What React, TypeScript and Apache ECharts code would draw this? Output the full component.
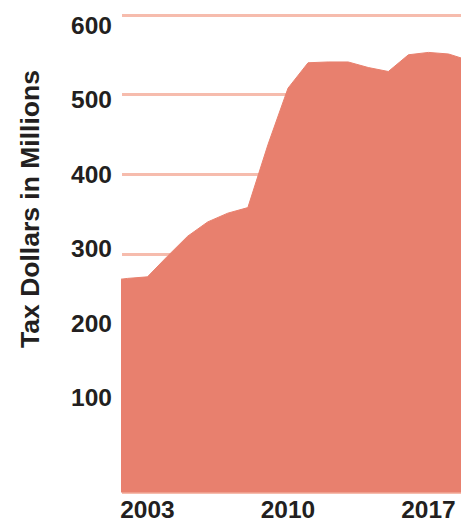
import React, { useEffect, useRef } from "react";
import * as echarts from "echarts";

const years = [2001, 2002, 2003, 2004, 2005, 2006, 2007, 2008, 2009, 2010, 2011, 2012, 2013, 2014, 2015, 2016, 2017, 2018, 2019];
const taxMillions = [266, 269, 271, 297, 322, 340, 351, 358, 437, 508, 540, 541, 541, 534, 529, 550, 553, 551, 543];
const xTickLabels = [2003, 2010, 2017];
const yTickLabels = [100, 200, 300, 400, 500, 600];
const yTitle = "Tax Dollars in Millions";

export default function App() {
  const ref = useRef<HTMLDivElement>(null);
  useEffect(() => {
    if (!ref.current) return;
    const chart = echarts.init(ref.current, null, { renderer: "svg" });
    const font = "'Liberation Sans', Arial, sans-serif";
    chart.setOption({
      animation: false,
      backgroundColor: "#ffffff",
      grid: { left: 122, right: 0, top: 15, bottom: 28, containLabel: false },
      xAxis: {
        type: "value",
        min: 2001.73,
        max: 2018.62,
        axisLine: { show: false },
        axisTick: { show: false },
        splitLine: { show: false },
        axisLabel: {
          customValues: xTickLabels,
          margin: 6,
          fontSize: 24.5,
          lineHeight: 22,
          fontWeight: "bold",
          fontFamily: font,
          color: "#231f20",
          formatter: (v: number) => String(v),
        },
      },
      yAxis: [
        {
          type: "value",
          position: "left",
          min: 0,
          max: 600,
          interval: 100,
          axisLine: { show: false },
          axisTick: { show: false },
          axisLabel: { show: false },
          splitLine: { show: true, lineStyle: { color: "#f6bcad", width: 3 } },
        },
        {
          type: "value",
          position: "left",
          min: -27.4,
          max: 613.8,
          axisLine: { show: false },
          axisTick: { show: false },
          splitLine: { show: false },
          axisLabel: {
            customValues: yTickLabels,
            margin: 10,
            fontSize: 24.5,
            fontWeight: "bold",
            fontFamily: font,
            color: "#231f20",
          },
        },
      ],
      series: [
        {
          type: "line",
          yAxisIndex: 0,
          data: years.map((y, i) => [y, taxMillions[i]]),
          symbol: "none",
          smooth: false,
          lineStyle: { color: "#E8806E", width: 1 },
          areaStyle: { color: "#E8806E", opacity: 1 },
          clip: true,
        },
      ],
      graphic: [
        {
          type: "text",
          x: 30,
          y: 209,
          rotation: Math.PI / 2,
          style: {
            text: yTitle,
            fontSize: 26.5,
            fontWeight: "bold",
            fontFamily: font,
            fill: "#231f20",
            align: "center",
            verticalAlign: "middle",
          },
        },
      ],
    });
    return () => chart.dispose();
  }, []);
  return (
    <div
      ref={ref}
      style={{ position: "fixed", left: 0, top: 0, width: 461, height: 522 }}
    />
  );
}
